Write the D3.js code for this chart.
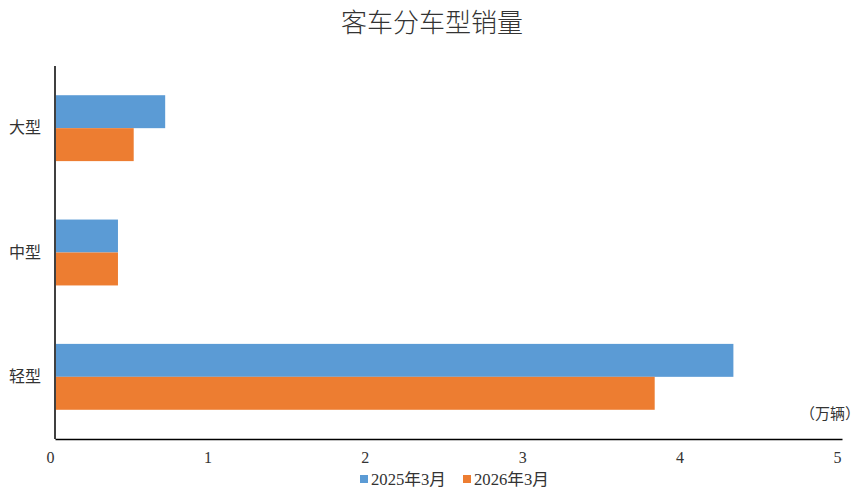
<!doctype html>
<html>
<head>
<meta charset="utf-8">
<script src="https://d3js.org/d3.v7.min.js"></script>
<style>
  body { margin: 0; background: #fff; }
  text { font-family: "Liberation Serif", "Noto Sans CJK SC", serif; fill: #333; }
  .domain { stroke: #000; stroke-width: 1.5px; }
</style>
</head>
<body>
<svg id="chart" width="865" height="497"></svg>
<script>
  var categories = ["大型", "中型", "轻型"];
  var seriesNames = ["2025年3月", "2026年3月"];
  var values2025 = [0.70, 0.40, 4.31];
  var values2026 = [0.50, 0.40, 3.81];
  var xTicks = [0, 1, 2, 3, 4, 5];
  var colors = ["#5B9BD5", "#ED7D31"];

  var svg = d3.select("#chart");
  var plotLeft = 55, plotRight = 842, plotTop = 66, plotBottom = 439;

  var x = d3.scaleLinear().domain([0, 5]).range([plotLeft, plotRight]);
  var y = d3.scaleBand().domain(categories).range([plotTop, plotBottom]).paddingInner(0.47).paddingOuter(0.235);
  var sub = d3.scaleBand().domain(seriesNames).range([0, y.bandwidth()]);

  var rows = categories.map(function (c, i) {
    return { cat: c, vals: [values2025[i], values2026[i]] };
  });

  svg.append("text")
    .attr("x", 432).attr("y", 32)
    .attr("text-anchor", "middle")
    .style("font-size", "26px")
    .style("font-weight", "300")
    .text("客车分车型销量");

  var g = svg.selectAll("g.cat").data(rows).enter().append("g")
    .attr("class", "cat")
    .attr("transform", function (d) { return "translate(0," + y(d.cat) + ")"; });

  g.selectAll("rect").data(function (d) { return d.vals; }).enter().append("rect")
    .attr("x", x(0) + 1)
    .attr("y", function (d, i) { return sub(seriesNames[i]); })
    .attr("width", function (d) { return x(d) - x(0) - 1; })
    .attr("height", sub.bandwidth())
    .style("fill", function (d, i) { return colors[i]; });

  var xAxis = d3.axisBottom(x).tickValues(xTicks).tickSize(0).tickPadding(13)
    .tickFormat(d3.format("d"));
  var xg = svg.append("g").attr("transform", "translate(0," + plotBottom + ")").call(xAxis);
  xg.selectAll(".tick text").attr("dx", -5).style("font-size", "16px");

  var yAxis = d3.axisLeft(y).tickSize(0).tickPadding(14);
  var yg = svg.append("g").attr("transform", "translate(" + plotLeft + ",0)").call(yAxis);
  yg.select(".domain").attr("d", "M0," + plotTop + "V" + plotBottom);
  yg.selectAll(".tick text").style("font-size", "16px");

  svg.append("text")
    .attr("x", 860).attr("y", 419)
    .attr("text-anchor", "end")
    .style("font-size", "15px")
    .text("（万辆）");

  var legendX = [360, 463];
  var lg = svg.selectAll("g.legend").data(seriesNames).enter().append("g")
    .attr("class", "legend")
    .attr("transform", function (d, i) { return "translate(" + legendX[i] + ",479)"; });
  lg.append("rect").attr("x", 0).attr("y", -4).attr("width", 8).attr("height", 8)
    .style("fill", function (d, i) { return colors[i]; });
  lg.append("text").attr("x", 11).attr("y", 6)
    .attr("textLength", 75).attr("lengthAdjust", "spacingAndGlyphs")
    .style("font-size", "16px")
    .text(function (d) { return d; });
</script>
</body>
</html>
